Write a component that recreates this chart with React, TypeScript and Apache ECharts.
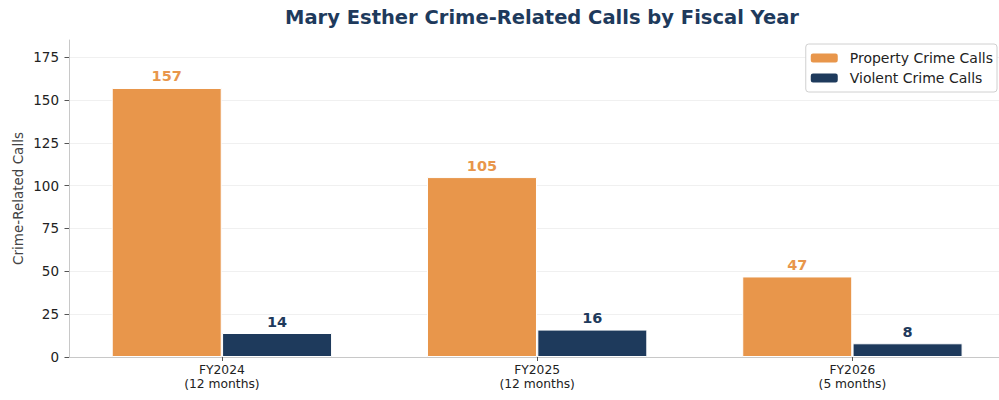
import React, { useEffect, useRef } from "react";
import * as echarts from "echarts";

const categories = ["FY2024\n(12 months)", "FY2025\n(12 months)", "FY2026\n(5 months)"];
const propertyCalls = [157, 105, 47];
const violentCalls = [14, 16, 8];
const yTicks = [0, 25, 50, 75, 100, 125, 150, 175];

const ORANGE = "#e8964b";
const NAVY = "#1e3a5c";
const FONT = "DejaVu Sans";
const BAR_OFFSET = 0.175;

export default function App() {
  const ref = useRef<HTMLDivElement>(null);
  useEffect(() => {
    if (!ref.current) return;
    const chart = echarts.init(ref.current, undefined, { renderer: "svg" });
    const idx = categories.map((_, i) => i);
    chart.setOption({
      animation: false,
      textStyle: { fontFamily: FONT },
      title: {
        text: "Mary Esther Crime-Related Calls by Fiscal Year",
        left: 537,
        textAlign: "center",
        top: 2,
        textStyle: { fontFamily: FONT, fontSize: 19.5, fontWeight: "bold", color: NAVY },
      },
      legend: {
        orient: "vertical",
        right: 2,
        top: 44,
        itemWidth: 27,
        itemHeight: 9,
        itemGap: 6,
        padding: [7, 4, 7, 5],
        borderColor: "#d0d0d0",
        borderWidth: 1,
        borderRadius: 3,
        backgroundColor: "#ffffff",
        textStyle: { fontFamily: FONT, fontSize: 14, color: "#222", padding: [0, 0, 0, 7] },
        data: [
          { name: "Property Crime Calls", itemStyle: { borderWidth: 0 } },
          { name: "Violent Crime Calls", itemStyle: { borderWidth: 0 } },
        ],
      },
      grid: { left: 69, right: 0, top: 40, bottom: 43, containLabel: false },
      xAxis: {
        type: "value",
        min: -0.485,
        max: 2.465,
        splitLine: { show: false },
        axisLine: { show: true, onZero: false, lineStyle: { color: "#c8c8c8", width: 1 } },
        axisTick: { show: true, customValues: idx, length: 4, lineStyle: { color: "#555" } },
        axisLabel: {
          customValues: idx,
          formatter: (v: number) => categories[Math.round(v)],
          fontFamily: FONT,
          fontSize: 12.3,
          lineHeight: 14,
          color: "#222",
          margin: 6,
        },
      },
      yAxis: {
        type: "value",
        min: 0,
        max: 185,
        interval: 25,
        name: "Crime-Related Calls",
        nameLocation: "middle",
        nameGap: 44,
        nameMoveOverlap: false,
        nameTextStyle: { fontFamily: FONT, fontSize: 13.5, color: "#444" },
        axisLine: { show: true, onZero: false, lineStyle: { color: "#c8c8c8", width: 1 } },
        axisTick: { show: true, length: 4.5, lineStyle: { color: "#555" }, customValues: yTicks },
        axisLabel: {
          customValues: yTicks,
          fontFamily: FONT,
          fontSize: 13.5,
          color: "#222",
          margin: 10,
        },
        splitLine: { show: true, lineStyle: { color: "#f0f0f0", width: 1 } },
      },
      series: [
        {
          name: "Property Crime Calls",
          type: "bar",
          barWidth: 110,
          barGap: "-100%",
          itemStyle: { color: ORANGE, borderColor: "#ffffff", borderWidth: 1 },
          label: {
            show: true,
            position: "top",
            distance: 4,
            fontFamily: FONT,
            fontSize: 14.5,
            fontWeight: "bold",
            color: ORANGE,
            formatter: (p: any) => String(p.value[1]),
          },
          data: propertyCalls.map((v, i) => [i - BAR_OFFSET, v]),
        },
        {
          name: "Violent Crime Calls",
          type: "bar",
          barWidth: 110,
          barGap: "-100%",
          itemStyle: { color: NAVY, borderColor: "#ffffff", borderWidth: 1 },
          label: {
            show: true,
            position: "top",
            distance: 4,
            fontFamily: FONT,
            fontSize: 14.5,
            fontWeight: "bold",
            color: NAVY,
            formatter: (p: any) => String(p.value[1]),
          },
          data: violentCalls.map((v, i) => [i + BAR_OFFSET, v]),
        },
      ],
    });
    return () => chart.dispose();
  }, []);
  return <div ref={ref} style={{ width: 999, height: 400, position: "absolute", left: 0, top: 0 }} />;
}
